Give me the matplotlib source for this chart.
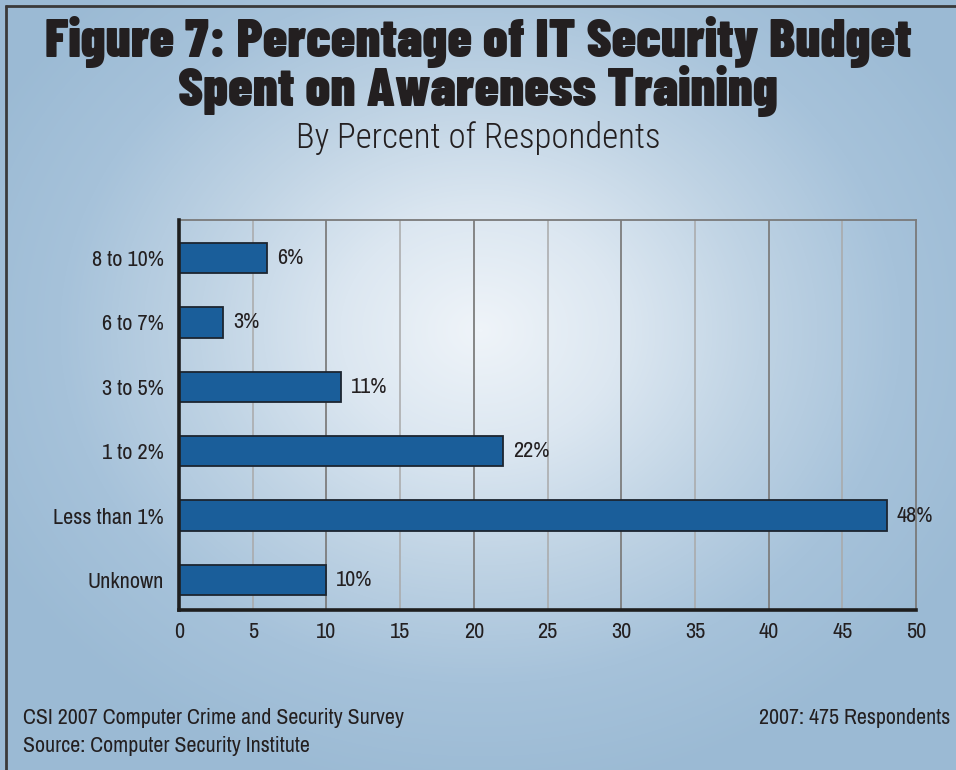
import matplotlib
matplotlib.use("Agg")
import numpy as np
import matplotlib.pyplot as plt
from matplotlib import font_manager
from matplotlib.colors import LinearSegmentedColormap

# ---- data -------------------------------------------------------------
categories = ["Unknown", "Less than 1%", "1 to 2%", "3 to 5%", "6 to 7%", "8 to 10%"]
percent = [10, 48, 22, 11, 3, 6]
x_ticks = [0, 5, 10, 15, 20, 25, 30, 35, 40, 45, 50]

title_lines = ["Figure 7: Percentage of IT Security Budget", "Spent on Awareness Training"]
subtitle = "By Percent of Respondents"
footer_left = ["CSI 2007 Computer Crime and Security Survey", "Source: Computer Security Institute"]
footer_right = "2007: 475 Respondents"

# ---- fonts ------------------------------------------------------------
available = {f.name for f in font_manager.fontManager.ttflist}


def pick(*names):
    for n in names:
        if n in available:
            return n
    return "DejaVu Sans"


head_font = pick("Barlow Condensed", "Oswald", "Roboto Condensed", "Archivo Narrow")
body_font = pick("Archivo Narrow", "Oswald", "Roboto Condensed")
sub_font = pick("Roboto Condensed", "Oswald", "Archivo Narrow")

W, H = 956, 770
fig = plt.figure(figsize=(W / 100, H / 100), dpi=100)

# ---- radial blue background --------------------------------------------
bg = fig.add_axes([0, 0, 1, 1], zorder=-10)
yy, xx = np.mgrid[0:H, 0:W]
cx, cy = 480, 330
r = np.sqrt(((xx - cx) / 560.0) ** 2 + ((yy - cy) / 470.0) ** 2)
r = np.clip(r, 0, 1)
cmap = LinearSegmentedColormap.from_list(
    "bgblue", ["#eff4f9", "#dce7f1", "#bfd3e4", "#a6c2da", "#9bbad4"])
bg.imshow(r, cmap=cmap, vmin=0, vmax=1, extent=[0, W, H, 0], aspect="auto",
          interpolation="bilinear")
bg.set_xlim(0, W)
bg.set_ylim(H, 0)
bg.axis("off")
# frame lines along top and left edge
bg.plot([5, W], [6, 6], color="#3a3a3a", lw=2.0, solid_capstyle="butt")
bg.plot([6, 6], [5, H], color="#3a3a3a", lw=2.0, solid_capstyle="butt")

# ---- bar chart ----------------------------------------------------------
ax = fig.add_axes([179 / W, 1 - 610 / H, (916 - 179) / W, 390 / H])
ax.patch.set_alpha(0)
y = np.arange(len(categories))
ax.barh(y, percent, height=0.47, color="#1a5e9a", edgecolor="#1c2530", linewidth=1.3, zorder=3)

ax.set_xlim(0, 50)
ax.set_ylim(-0.466, 5.59)
ax.set_xticks(x_ticks)
ax.set_xticklabels([str(t) for t in x_ticks])
ax.set_yticks(y)
ax.set_yticklabels(categories)
ax.tick_params(axis="both", length=0, labelsize=16, colors="#231f20")
ax.tick_params(axis="x", pad=9)
ax.tick_params(axis="y", pad=11)
for lab in ax.get_xticklabels() + ax.get_yticklabels():
    lab.set_family(body_font)

for t in x_ticks[1:-1]:
    major = (t % 10 == 0)
    ax.axvline(t, color="#7d7d7d" if major else "#a9a9a9", lw=1.3 if major else 1.1, zorder=1)

for side in ("top", "right"):
    ax.spines[side].set_color("#7a7a7a")
    ax.spines[side].set_linewidth(1.3)
for side in ("left", "bottom"):
    ax.spines[side].set_color("#1e1e1e")
    ax.spines[side].set_linewidth(2.6)
    ax.spines[side].set_zorder(5)

for yi, v in zip(y, percent):
    ax.text(v + 0.65, yi, f"{v}%", va="center", ha="left", fontsize=16,
            family=body_font, color="#231f20", zorder=4)

# ---- titles and notes ---------------------------------------------------
fig.text(0.5, 1 - 42 / H, title_lines[0], ha="center", va="center", fontsize=39,
         family=head_font, weight="black", color="#231f20")
fig.text(0.5, 1 - 91 / H, title_lines[1], ha="center", va="center", fontsize=39,
         family=head_font, weight="black", color="#231f20")
fig.text(0.5, 1 - 138 / H, subtitle, ha="center", va="center", fontsize=25,
         family=sub_font, weight="light", color="#231f20")

fig.text(23 / W, 1 - 718 / H, footer_left[0], ha="left", va="center", fontsize=15.8,
         family=body_font, color="#231f20")
fig.text(23 / W, 1 - 746 / H, footer_left[1], ha="left", va="center", fontsize=15.8,
         family=body_font, color="#231f20")
fig.text(950 / W, 1 - 718 / H, footer_right, ha="right", va="center", fontsize=15.8,
         family=body_font, color="#231f20")

fig.savefig("out.png", dpi=100)
